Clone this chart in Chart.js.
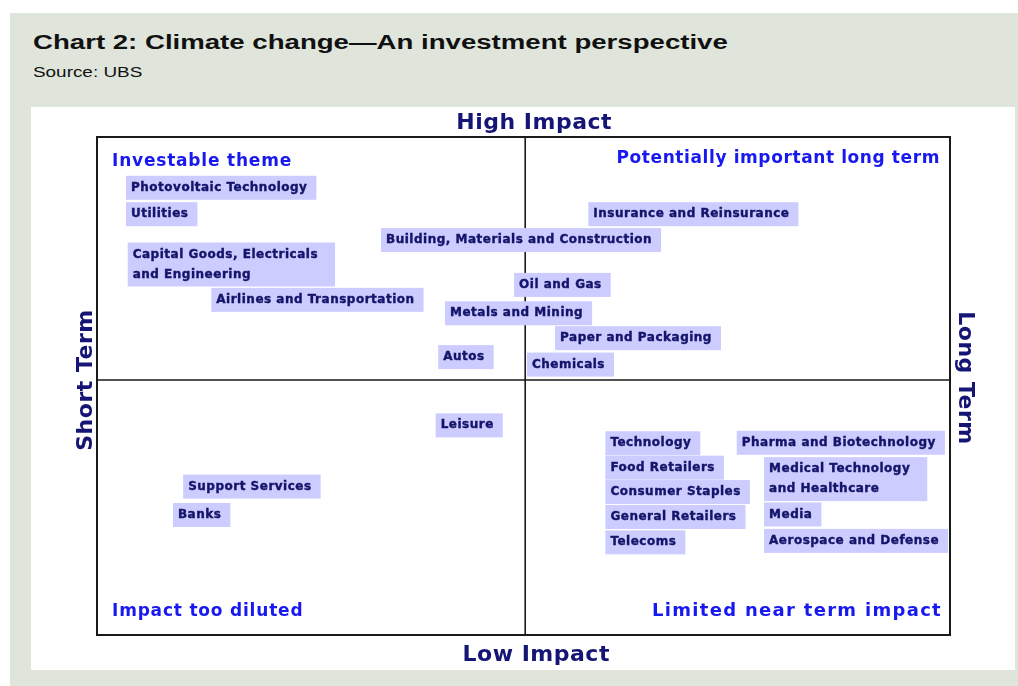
<!DOCTYPE html>
<html>
<head>
<meta charset="utf-8">
<script src="https://cdn.jsdelivr.net/npm/chart.js@4.4.0/dist/chart.umd.min.js"></script>
<style>
  body { margin: 0; background: #fff; width: 1018px; height: 686px; overflow: hidden; }
  #panel { position: absolute; left: 10px; top: 13px; width: 1008px; height: 673px; background: #dfe5da; }
  #title { position: absolute; left: 23px; top: 18px; margin: 0; font: bold 20px "Liberation Sans", Arial, sans-serif;
           color: #111; white-space: nowrap; transform: scaleX(1.38); transform-origin: left top; }
  #source { position: absolute; left: 23px; top: 51px; font: 14px "Liberation Sans", Arial, sans-serif;
            color: #111; white-space: nowrap; transform: scaleX(1.35); transform-origin: left top; }
  #box { position: absolute; left: 21px; top: 94px; width: 984px; height: 563px; background: #fff; }
  canvas { position: absolute; left: 0; top: 0; }
</style>
</head>
<body>
<div id="panel">
  <h1 id="title">Chart 2: Climate change—An investment perspective</h1>
  <div id="source">Source: UBS</div>
  <div id="box"><canvas id="canvas" width="984" height="563"></canvas></div>
</div>
<script>
// sector placement: horizon = short term (0) .. long term (100), impact = low (0) .. high (100)
var sectors = [
    'Photovoltaic Technology', 'Utilities', 'Capital Goods, Electricals\nand Engineering',
    'Airlines and Transportation', 'Building, Materials and Construction',
    'Insurance and Reinsurance', 'Oil and Gas', 'Metals and Mining', 'Paper and Packaging',
    'Autos', 'Chemicals', 'Leisure', 'Support Services', 'Banks',
    'Technology', 'Food Retailers', 'Consumer Staples', 'General Retailers', 'Telecoms',
    'Pharma and Biotechnology', 'Medical Technology\nand Healthcare', 'Media', 'Aerospace and Defense'
];
var horizon = [3.4, 3.4, 3.6, 13.4, 33.3, 57.6, 48.9, 40.8, 53.7, 40.0, 50.4, 39.7, 10.1, 8.9,
    59.6, 59.6, 59.6, 59.6, 59.6, 75.0, 78.2, 78.2, 78.2];
var impact = [89.8, 84.5, 74.4, 67.3, 79.3, 84.5, 70.3, 64.6, 59.6, 55.8, 54.3, 42.1, 29.8, 24.1,
    38.5, 33.6, 28.7, 23.7, 18.6, 38.6, 31.3, 24.2, 18.9];

var quadrants = ['Investable theme', 'Potentially important long term', 'Impact too diluted', 'Limited near term impact'];
var axisTitles = ['High Impact', 'Low Impact', 'Short Term', 'Long Term'];
var xMid = 50.2, yMid = 51.2;

var points = [];
for (var i = 0; i < sectors.length; i++) {
    points.push({x: horizon[i], y: impact[i]});
}

var quadrantPlugin = {
    id: 'quadrant',
    beforeDatasetsDraw: function (chart) {
        var ctx = chart.ctx, a = chart.chartArea;
        var mx = chart.scales.x.getPixelForValue(xMid);
        var my = chart.scales.y.getPixelForValue(yMid);
        ctx.save();
        ctx.strokeStyle = '#1a1a1a';
        ctx.lineWidth = 1.6;
        ctx.beginPath();
        ctx.moveTo(mx, a.top); ctx.lineTo(mx, a.bottom);
        ctx.moveTo(a.left, my); ctx.lineTo(a.right, my);
        ctx.stroke();
        ctx.lineWidth = 2;
        ctx.strokeRect(a.left, a.top, a.right - a.left, a.bottom - a.top);
        ctx.restore();
    },
    afterDatasetsDraw: function (chart) {
        var ctx = chart.ctx, a = chart.chartArea;
        var meta = chart.getDatasetMeta(0);
        ctx.save();
        ctx.textBaseline = 'middle';
        ctx.font = 'bold 12px "DejaVu Sans"';
        ctx.letterSpacing = '0.5px';
        ctx.lineWidth = 0.4;
        meta.data.forEach(function (pt, i) {
            var lines = sectors[i].split('\n');
            var w = 0;
            lines.forEach(function (l) { w = Math.max(w, ctx.measureText(l).width); });
            w += lines.length > 1 ? 22 : 14;
            var h = lines.length * 20 + 4;
            ctx.fillStyle = '#ccccff';
            ctx.fillRect(pt.x, pt.y - h / 2, w, h);
            ctx.fillStyle = '#14146a';
            ctx.strokeStyle = '#14146a';
            ctx.textAlign = 'left';
            lines.forEach(function (l, k) {
                ctx.fillText(l, pt.x + 5, pt.y - h / 2 + 12 + k * 20);
                ctx.strokeText(l, pt.x + 5, pt.y - h / 2 + 12 + k * 20);
            });
        });

        // quadrant headings
        ctx.fillStyle = '#1818f0';
        ctx.font = 'bold 17px "DejaVu Sans"';
        ctx.letterSpacing = '0.8px';
        ctx.textAlign = 'left';
        ctx.fillText(quadrants[0], a.left + 15, a.top + 25);
        ctx.fillText(quadrants[2], a.left + 15, a.bottom - 23);
        ctx.textAlign = 'right';
        ctx.letterSpacing = '0.6px';
        ctx.fillText(quadrants[1], a.right - 10, a.top + 22);
        ctx.font = 'bold 18px "DejaVu Sans"';
        ctx.letterSpacing = '1.3px';
        ctx.fillText(quadrants[3], a.right - 8, a.bottom - 24);

        // axis titles
        var mx = chart.scales.x.getPixelForValue(xMid);
        var my = chart.scales.y.getPixelForValue(yMid);
        ctx.fillStyle = '#151575';
        ctx.font = 'bold 22px "DejaVu Sans"';
        ctx.letterSpacing = '0.5px';
        ctx.textAlign = 'center';
        ctx.fillText(axisTitles[0], mx + 9, a.top - 14);
        ctx.fillText(axisTitles[1], mx + 11, a.bottom + 20);
        ctx.save();
        ctx.translate(a.left - 11, my);
        ctx.rotate(-Math.PI / 2);
        ctx.fillText(axisTitles[2], 0, 0);
        ctx.restore();
        ctx.save();
        ctx.translate(a.right + 15, my - 2);
        ctx.rotate(Math.PI / 2);
        ctx.fillText(axisTitles[3], 0, 0);
        ctx.restore();
        ctx.restore();
    }
};

var config = {
    type: 'scatter',
    data: {
        datasets: [{
            data: points,
            pointRadius: 0,
            pointHoverRadius: 0
        }]
    },
    options: {
        responsive: false,
        animation: false,
        layout: { padding: { left: 66, right: 65, top: 30, bottom: 35 } },
        plugins: { legend: { display: false }, tooltip: { enabled: false } },
        scales: {
            x: { type: 'linear', min: 0, max: 100, display: false },
            y: { type: 'linear', min: 0, max: 100, display: false }
        }
    },
    plugins: [quadrantPlugin]
};

var ctx = document.getElementById('canvas').getContext('2d');
new Chart(ctx, config);
</script>
</body>
</html>
